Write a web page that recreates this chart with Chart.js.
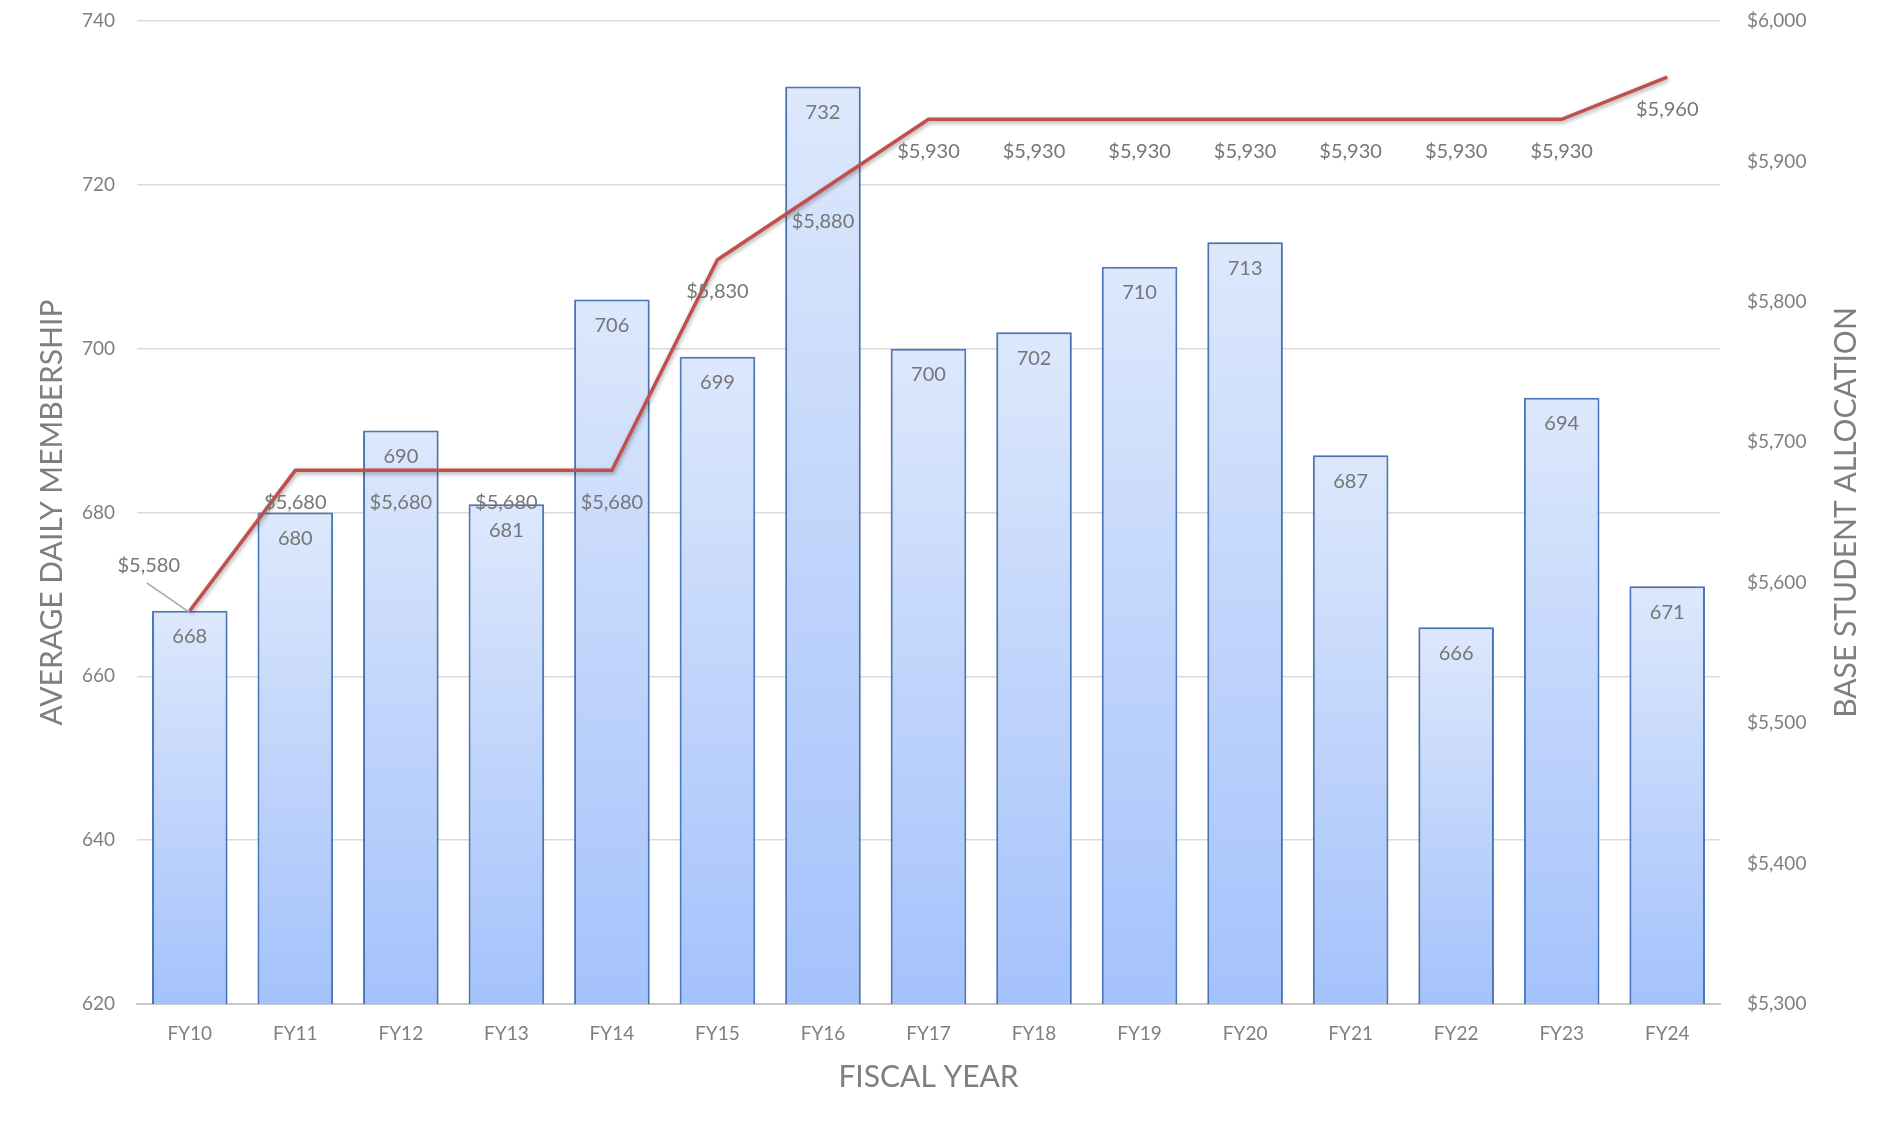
<!DOCTYPE html>
<html>
<head>
<meta charset="utf-8">
<title>Average Daily Membership and Base Student Allocation</title>
<script src="https://cdn.jsdelivr.net/npm/chart.js@4.4.1/dist/chart.umd.min.js"></script>
<style>
  html, body { margin: 0; padding: 0; background: #ffffff; }
  #wrap { width: 1896px; height: 1128px; }
</style>
</head>
<body>
<div id="wrap"><canvas id="chart" width="1896" height="1128"></canvas></div>
<script>
// Fiscal years on the category axis
const fiscalYears = ['FY10', 'FY11', 'FY12', 'FY13', 'FY14', 'FY15', 'FY16', 'FY17',
                     'FY18', 'FY19', 'FY20', 'FY21', 'FY22', 'FY23', 'FY24'];
// Average daily membership (bars, left axis)
const membership = [668, 680, 690, 681, 706, 699, 732, 700, 702, 710, 713, 687, 666, 694, 671];
// Base student allocation in dollars (line, right axis)
const allocation = [5580, 5680, 5680, 5680, 5680, 5830, 5880, 5930, 5930, 5930, 5930, 5930, 5930, 5930, 5960];

// Axis ranges and tick steps
const membershipAxis = { min: 620, max: 740, step: 20 };
const allocationAxis = { min: 5300, max: 6000, step: 100 };

// Axis titles
const titleLeft = 'AVERAGE DAILY MEMBERSHIP';
const titleRight = 'BASE STUDENT ALLOCATION';
const titleBottom = 'FISCAL YEAR';

const FONT = 'Lato, Calibri, Carlito, "Open Sans", sans-serif';
const TICK_COLOR = '#7f7f7f';
const LABEL_COLOR = '#767676';
const BAR_TOP = '#dde8fc';
const BAR_BOTTOM = '#a4c2fb';
const BAR_BORDER = '#4e7fc4';
const LINE_COLOR = '#c0504d';

const money = v => '$' + v.toLocaleString('en-US');

// Soft drop shadows under the bars and the line
const shadowPlugin = {
  id: 'shadows',
  beforeDatasetDraw(chart, args) {
    const ctx = chart.ctx;
    ctx.save();
    if (args.meta.type === 'line') {
      ctx.shadowColor = 'rgba(0,0,0,0.35)';
      ctx.shadowBlur = 4;
      ctx.shadowOffsetX = 1;
      ctx.shadowOffsetY = 2;
    } else {
      ctx.shadowColor = 'rgba(0,0,0,0.22)';
      ctx.shadowBlur = 5;
      ctx.shadowOffsetX = 0;
      ctx.shadowOffsetY = 0;
    }
  },
  afterDatasetDraw(chart) {
    chart.ctx.restore();
  }
};

// Value labels: membership inside the bar tops, allocation under each line point
const valueLabelPlugin = {
  id: 'valueLabels',
  afterDatasetsDraw(chart) {
    const ctx = chart.ctx;
    ctx.save();
    ctx.font = '20px ' + FONT;
    ctx.fillStyle = LABEL_COLOR;
    ctx.textAlign = 'center';
    ctx.textBaseline = 'middle';

    chart.data.datasets.forEach((ds, di) => {
      const meta = chart.getDatasetMeta(di);
      meta.data.forEach((el, i) => {
        const v = ds.data[i];
        if (meta.type === 'bar') {
          ctx.fillText(String(v), el.x, el.y + 26);
        } else if (i === 0) {
          // first point: label lifted up-left with a leader line
          ctx.fillText(money(v), el.x - 41, el.y - 45);
          ctx.save();
          ctx.strokeStyle = '#a6a6a6';
          ctx.lineWidth = 1.5;
          ctx.beginPath();
          ctx.moveTo(el.x - 43, el.y - 28);
          ctx.lineTo(el.x - 1, el.y + 1);
          ctx.stroke();
          ctx.restore();
        } else {
          ctx.fillText(money(v), el.x, el.y + 32);
        }
      });
    });
    ctx.restore();
  }
};

// Axis titles (the right one reads bottom-to-top like the left one)
const axisTitlePlugin = {
  id: 'axisTitles',
  afterDraw(chart) {
    const ctx = chart.ctx;
    const a = chart.chartArea;
    const midY = (a.top + a.bottom) / 2;
    ctx.save();
    ctx.font = '30px ' + FONT;
    ctx.fillStyle = TICK_COLOR;
    ctx.textAlign = 'center';
    ctx.textBaseline = 'middle';

    ctx.save();
    ctx.translate(52, midY);
    ctx.rotate(-Math.PI / 2);
    ctx.fillText(titleLeft, 0, 0);
    ctx.restore();

    ctx.save();
    ctx.translate(1846, midY);
    ctx.rotate(-Math.PI / 2);
    ctx.fillText(titleRight, 0, 0);
    ctx.restore();

    ctx.fillText(titleBottom, (a.left + a.right) / 2, 1077);
    ctx.restore();
  }
};

function barFill(c) {
  const chart = c.chart;
  if (!chart.chartArea || c.type !== 'data') return BAR_BOTTOM;
  const y = chart.scales.y;
  const top = y.getPixelForValue(c.raw);
  const bottom = y.getPixelForValue(y.min);
  if (!isFinite(top) || !isFinite(bottom) || bottom - top < 1) return BAR_BOTTOM;
  const g = chart.ctx.createLinearGradient(0, top, 0, bottom);
  g.addColorStop(0, BAR_TOP);
  g.addColorStop(1, BAR_BOTTOM);
  return g;
}

// Fixed side widths; the vertical axes reserve no extra room above the plot
function fitVertical(width) {
  return s => {
    s.width = width;
    s.paddingTop = 0;
    s.paddingBottom = 0;
  };
}

function build() {
  Chart.defaults.font.family = FONT;
  Chart.defaults.color = TICK_COLOR;

  new Chart(document.getElementById('chart'), {
    data: {
      labels: fiscalYears,
      datasets: [
        {
          type: 'line',
          label: 'Base Student Allocation',
          data: allocation,
          yAxisID: 'y2',
          borderColor: LINE_COLOR,
          borderWidth: 3.5,
          pointRadius: 0,
          tension: 0,
          fill: false,
          order: 0
        },
        {
          type: 'bar',
          label: 'Average Daily Membership',
          data: membership,
          yAxisID: 'y',
          backgroundColor: barFill,
          borderColor: BAR_BORDER,
          borderWidth: 2,
          borderSkipped: 'bottom',
          categoryPercentage: 1,
          barPercentage: 0.716,
          order: 1
        }
      ]
    },
    options: {
      responsive: false,
      animation: false,
      devicePixelRatio: 1,
      layout: { padding: { top: 21, left: 0, right: 0, bottom: 0 } },
      plugins: {
        legend: { display: false },
        tooltip: { enabled: false },
        title: { display: false }
      },
      scales: {
        x: {
          grid: { display: false, drawTicks: false },
          border: { display: true, color: '#c8c8c8', width: 2 },
          ticks: { font: { size: 19 }, color: TICK_COLOR, padding: 18, maxRotation: 0 },
          afterFit(s) { s.height = 124; s.paddingLeft = 0; s.paddingRight = 0; }
        },
        y: {
          position: 'left',
          min: membershipAxis.min,
          max: membershipAxis.max,
          grid: { color: '#dadada', lineWidth: 1.5, drawTicks: false },
          border: { display: false },
          ticks: { stepSize: membershipAxis.step, font: { size: 19 }, color: TICK_COLOR, padding: 22 },
          afterFit: fitVertical(137)
        },
        y2: {
          position: 'right',
          min: allocationAxis.min,
          max: allocationAxis.max,
          grid: { drawOnChartArea: false, drawTicks: false },
          border: { display: false },
          ticks: {
            stepSize: allocationAxis.step,
            font: { size: 19 },
            color: TICK_COLOR,
            padding: 27,
            callback: v => money(v)
          },
          afterFit: fitVertical(176)
        }
      }
    },
    plugins: [shadowPlugin, valueLabelPlugin, axisTitlePlugin]
  });
}

const fontLoads = document.fonts && document.fonts.load
  ? Promise.all([document.fonts.load('19px Lato'), document.fonts.load('30px Lato')])
  : Promise.resolve();
fontLoads.then(build, build);
</script>
</body>
</html>
